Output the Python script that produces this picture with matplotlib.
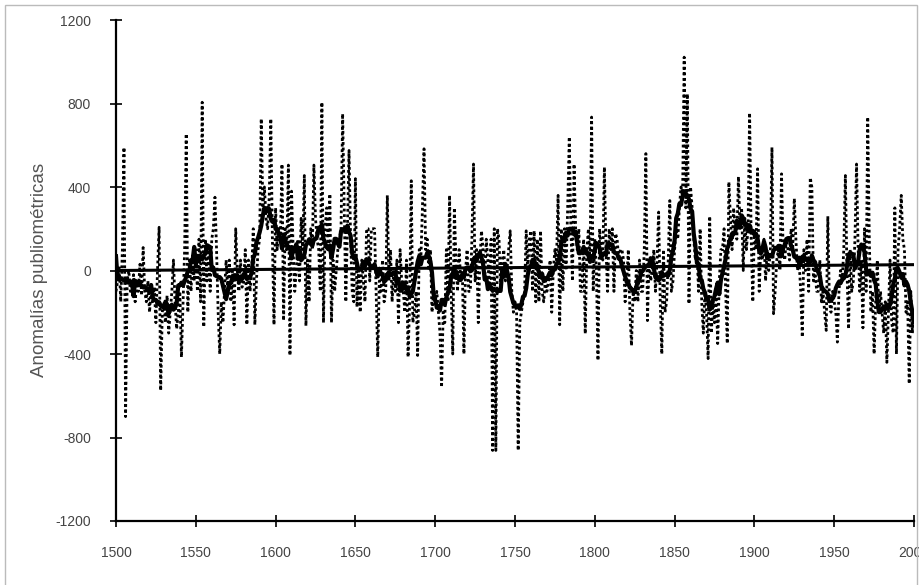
import numpy as np
import pandas as pd
import matplotlib
matplotlib.use("Agg")
import matplotlib.pyplot as plt
from matplotlib.patches import Rectangle

# ---- data ----
years = list(range(1500, 2001))
anomalies = (
    [-100, -50, 20, -150, 100, 590, -700, -50, 0, -100] +          # 1500s
    [-80, -20, -150, -60, -100, 30, -120, 110, -100, -150] +       # 1510s
    [-50, -200, -100, -150, -80, -250, 0, 207, -575, -200] +       # 1520s
    [-150, -250, -120, -300, -200, -100, 50, -150, -280, -200] +   # 1530s
    [-100, -415, -150, 100, 655, -200, 50, -100, 80, -50] +        # 1540s
    [100, -100, 150, -150, 806, -271, 150, -50, 100, -100] +       # 1550s
    [150, 200, 351, 100, -200, -400, -150, -250, -100, 50] +       # 1560s
    [-100, 50, -150, 0, -260, 200, 0, -100, 50, -80] +             # 1570s
    [-50, 100, -260, 50, -100, 0, 200, -260, -50, 100] +           # 1580s
    [150, 727, 300, 400, 250, 200, 350, 727, 150, -260] +          # 1590s
    [300, 100, 200, 150, 510, -240, 200, 100, 505, -407] +         # 1600s
    [380, 100, -100, 0, 150, -50, 250, 100, 455, -265] +           # 1610s
    [50, -150, 200, 100, 505, 250, 150, 100, -100, 806] +          # 1620s
    [-250, 200, 300, 100, 367, -250, 50, -100, 0, 100] +           # 1630s
    [150, 200, 751, 300, -150, 200, 575, 150, -100, -150] +        # 1640s
    [440, -175, 0, -200, 50, -50, -150, 200, 200, -50] +           # 1650s
    [200, 200, 200, -100, -415, -50, -100, 50, -150, -100] +       # 1660s
    [360, -50, 100, -150, 0, -100, 50, -250, 100, -50] +           # 1670s
    [-100, -200, 50, -415, -150, 430, -250, -200, -100, -407] +    # 1680s
    [100, 50, 300, 583, 100, 150, 0, 100, -200, -100] +            # 1690s
    [-150, -100, -200, -300, -560, -200, -250, 100, -150, 360] +   # 1700s
    [-100, -400, 300, 50, -100, 100, -50, 0, -400, 0] +            # 1710s
    [100, -100, -100, 150, 510, -50, 100, -250, 50, 190] +         # 1720s
    [100, -50, 150, 50, -100, 150, -862, 200, -862, 200] +         # 1730s
    [150, -100, 50, 100, -50, 0, 100, 190, -100, -200] +           # 1740s
    [-150, -200, -862, -250, -200, -150, -100, 190, 0, 150] +      # 1750s
    [190, -100, 190, -150, 150, -150, 190, -100, -150, -50] +      # 1760s
    [-100, -50, 50, -200, 0, 100, 50, 360, -260, 200] +            # 1770s
    [-100, 200, 0, 300, 640, 200, -50, 510, 200, 100] +            # 1780s
    [200, -100, -100, 150, -303, 100, 200, 50, 735, -100] +        # 1790s
    [150, 0, -431, 200, 100, 50, 495, 100, -100, 200] +            # 1800s
    [100, 200, -100, 177, 150, 50, 100, 100, 50, -150] +           # 1810s
    [-50, 100, -200, -360, -100, -150, 0, -150, 50, -100] +        # 1820s
    [-100, 100, 560, -240, 50, -50, 0, 100, -100, 50] +            # 1830s
    [280, -150, -400, 100, -200, -150, 50, 335, -100, -50] +       # 1840s
    [100, 200, 150, 300, 400, 350, 1022, 300, 846, -160] +         # 1850s
    [400, 300, 150, 50, 100, -100, 200, -150, -300, -100] +        # 1860s
    [-200, -422, 260, -300, -150, -250, -100, -350, -50, 100] +    # 1870s
    [100, 200, -100, -350, 424, 250, 100, 300, 200, 150] +         # 1880s
    [450, 200, 300, 0, 250, 100, 200, 755, 150, -150] +            # 1890s
    [200, 100, 487, -100, 100, 50, 150, -50, 100, 0] +             # 1900s
    [100, 590, -207, -100, 50, 100, 0, 463, 100, 50] +             # 1910s
    [150, 100, 50, 200, 100, 345, 150, 0, 50, -100] +              # 1920s
    [-319, 100, 0, 150, -100, 445, 400, -50, 0, -100] +            # 1930s
    [-100, 50, -150, -100, -200, -287, 260, -150, -200, -100] +    # 1940s
    [-150, -200, -343, -100, 0, -50, 100, 455, 0, -280] +          # 1950s
    [100, -100, -50, 150, 510, 100, -100, 50, -275, 200] +         # 1960s
    [-100, 735, 150, -200, -100, -400, -150, 50, -200, -100] +     # 1970s
    [-200, -300, -150, -440, -200, 50, -250, -300, 300, -400] +    # 1980s
    [100, 200, 360, 150, 100, -200, -150, -543, -100, -300] +      # 1990s
    [-200]                                                          # 2000
)
trend_years = [1500, 2000]
trend_values = [0, 28]
smooth_window = 11

x_ticks = [1500, 1550, 1600, 1650, 1700, 1750, 1800, 1850, 1900, 1950, 2000]
y_ticks = [-1200, -800, -400, 0, 400, 800, 1200]
y_label = "Anomalías publiométricas"

# ---- figure ----
fig = plt.figure(figsize=(9.19, 5.85), dpi=100)
ax = fig.add_axes([116 / 919, 64 / 585, (914 - 116) / 919, (521 - 20) / 585])

series = pd.Series(anomalies, index=years)
smooth = series.rolling(smooth_window, center=True, min_periods=1).mean()

ax.plot(series.index, series.values, color="black", lw=2.0,
        linestyle=(0, (1.0, 1.0)), zorder=2)
ax.plot(smooth.index, smooth.values, color="black", lw=3.0, zorder=3)
ax.plot(trend_years, trend_values, color="black", lw=2.2, zorder=4)

ax.set_xlim(1500, 2000)
ax.set_ylim(-1200, 1200)
ax.set_xticks(x_ticks)
ax.set_yticks(y_ticks)
ax.set_xticklabels([str(t) for t in x_ticks])
ax.set_yticklabels([str(t) for t in y_ticks])

for s in ("top", "right"):
    ax.spines[s].set_visible(False)
for s in ("left", "bottom"):
    ax.spines[s].set_linewidth(1.6)
    ax.spines[s].set_color("black")

ax.tick_params(axis="both", direction="inout", length=8, width=1.2,
               labelsize=10, labelcolor="#444444")
ax.tick_params(axis="x", pad=14)
ax.tick_params(axis="y", pad=14)
for lbl in ax.get_xticklabels() + ax.get_yticklabels():
    lbl.set_family(["Liberation Sans Narrow", "Liberation Sans", "DejaVu Sans"])

fig.text(40 / 919, 1 - 270 / 585, y_label, rotation=90, ha="center",
         va="center", fontsize=13.5, color="#555555",
         family=["Liberation Sans", "DejaVu Sans"])

fig.patches.append(Rectangle((5 / 919, -0.01), 912 / 919, 1 - 5 / 585 + 0.01,
                             transform=fig.transFigure, fill=False,
                             edgecolor="#bbbbbb", lw=1.0))

fig.savefig("out.png", dpi=100)
